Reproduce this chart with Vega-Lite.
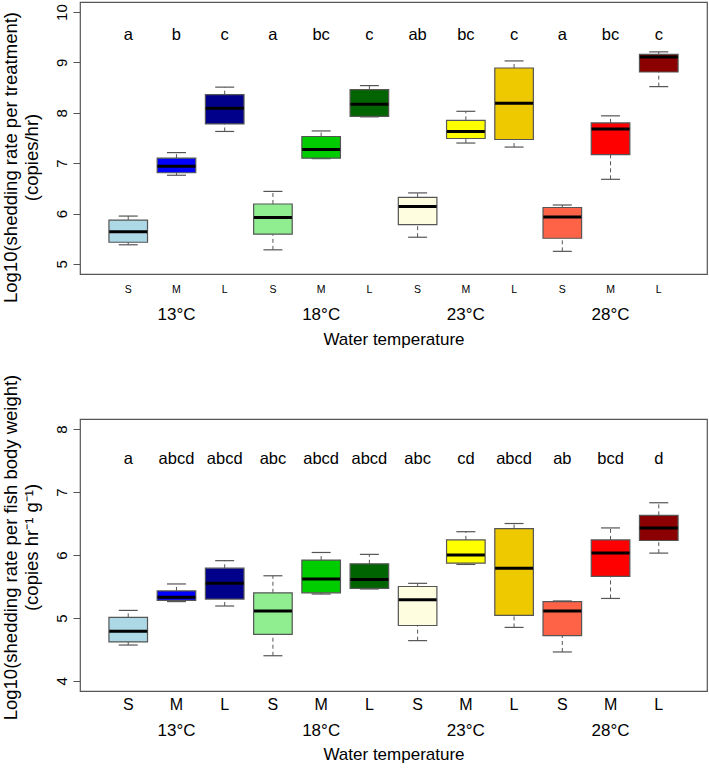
{
  "$schema": "https://vega.github.io/schema/vega-lite/v6.json",
  "padding": {"left": 0, "top": 1, "right": 0, "bottom": 0},
  "spacing": 145,
  "bounds": "flush",
  "config": {
    "font": "Liberation Sans",
    "view": {"stroke": "#555", "strokeWidth": 1.2},
    "tick": {"opacity": 1},
    "axis": {"labelColor": "#000", "titleColor": "#000", "titleFontWeight": "normal", "grid": false, "labelFont": "Liberation Sans", "titleFont": "Liberation Sans"},
    "axisY": {"labelAngle": -90, "labelAlign": "center", "labelBaseline": "alphabetic", "labelFontSize": 15, "tickSize": 7, "tickColor": "#555", "domain": false, "labelPadding": 7,
              "titleFontSize": 18.5, "titleLineHeight": 21, "titleAngle": -90, "titleX": -64, "titleBaseline": "alphabetic", "titleAlign": "center", "format": "d"}
  },
  "datasets": {
    "top": [
      {"grp": "13°C S", "lo": 5.38, "q1": 5.43, "med": 5.64, "q3": 5.87, "hi": 5.95, "letter": "a"},
      {"grp": "13°C M", "lo": 6.76, "q1": 6.81, "med": 6.94, "q3": 7.10, "hi": 7.21, "letter": "b"},
      {"grp": "13°C L", "lo": 7.63, "q1": 7.78, "med": 8.09, "q3": 8.36, "hi": 8.51, "letter": "c"},
      {"grp": "18°C S", "lo": 5.28, "q1": 5.59, "med": 5.92, "q3": 6.19, "hi": 6.44, "letter": "a"},
      {"grp": "18°C M", "lo": 7.09, "q1": 7.10, "med": 7.27, "q3": 7.53, "hi": 7.64, "letter": "bc"},
      {"grp": "18°C L", "lo": 7.92, "q1": 7.93, "med": 8.17, "q3": 8.46, "hi": 8.54, "letter": "c"},
      {"grp": "23°C S", "lo": 5.53, "q1": 5.78, "med": 6.14, "q3": 6.32, "hi": 6.41, "letter": "ab"},
      {"grp": "23°C M", "lo": 7.40, "q1": 7.49, "med": 7.63, "q3": 7.85, "hi": 8.03, "letter": "bc"},
      {"grp": "23°C L", "lo": 7.32, "q1": 7.47, "med": 8.19, "q3": 8.89, "hi": 9.03, "letter": "c"},
      {"grp": "28°C S", "lo": 5.25, "q1": 5.51, "med": 5.93, "q3": 6.12, "hi": 6.17, "letter": "a"},
      {"grp": "28°C M", "lo": 6.68, "q1": 7.17, "med": 7.68, "q3": 7.80, "hi": 7.94, "letter": "bc"},
      {"grp": "28°C L", "lo": 8.52, "q1": 8.81, "med": 9.11, "q3": 9.16, "hi": 9.21, "letter": "c"}
    ],
    "bot": [
      {"grp": "13°C S", "lo": 4.57, "q1": 4.62, "med": 4.79, "q3": 5.01, "hi": 5.12, "letter": "a"},
      {"grp": "13°C M", "lo": 5.26, "q1": 5.28, "med": 5.33, "q3": 5.43, "hi": 5.54, "letter": "abcd"},
      {"grp": "13°C L", "lo": 5.19, "q1": 5.30, "med": 5.55, "q3": 5.79, "hi": 5.91, "letter": "abcd"},
      {"grp": "18°C S", "lo": 4.40, "q1": 4.74, "med": 5.11, "q3": 5.40, "hi": 5.67, "letter": "abc"},
      {"grp": "18°C M", "lo": 5.38, "q1": 5.40, "med": 5.62, "q3": 5.92, "hi": 6.04, "letter": "abcd"},
      {"grp": "18°C L", "lo": 5.46, "q1": 5.47, "med": 5.61, "q3": 5.86, "hi": 6.01, "letter": "abcd"},
      {"grp": "23°C S", "lo": 4.64, "q1": 4.88, "med": 5.29, "q3": 5.50, "hi": 5.55, "letter": "abc"},
      {"grp": "23°C M", "lo": 5.85, "q1": 5.87, "med": 6.00, "q3": 6.24, "hi": 6.37, "letter": "cd"},
      {"grp": "23°C L", "lo": 4.85, "q1": 5.04, "med": 5.79, "q3": 6.42, "hi": 6.50, "letter": "abcd"},
      {"grp": "28°C S", "lo": 4.46, "q1": 4.72, "med": 5.11, "q3": 5.26, "hi": 5.27, "letter": "ab"},
      {"grp": "28°C M", "lo": 5.31, "q1": 5.66, "med": 6.03, "q3": 6.24, "hi": 6.43, "letter": "bcd"},
      {"grp": "28°C L", "lo": 6.03, "q1": 6.23, "med": 6.43, "q3": 6.63, "hi": 6.83, "letter": "d"}
    ]
  },
  "vconcat": [
    {
      "width": 627, "height": 272,
      "data": {"name": "top"},
      "resolve": {"axis": {"x": "independent"}},
      "layer": [
        {"mark": {"type": "rule", "strokeDash": [4, 3], "color": "#555"},
         "encoding": {
           "x": {"field": "grp", "type": "nominal", "sort": null, "scale": {"paddingInner": 0.2, "paddingOuter": 0.6}, "axis": null},
           "y": {"field": "lo", "type": "quantitative", "scale": {"domain": [4.8, 10.2], "nice": false, "zero": false},
                 "axis": {"values": [5, 6, 7, 8, 9, 10], "labelAngle": -90, "format": "d", "titleY": 155, "title": ["Log10(shedding rate per treatment)", "(copies/hr)"]}},
           "y2": {"field": "q1"}}},
        {"mark": {"type": "rule", "strokeDash": [4, 3], "color": "#555"},
         "encoding": {
           "x": {"field": "grp", "type": "nominal", "sort": null, "axis": null},
           "y": {"field": "q3", "type": "quantitative", "axis": {"values": [5, 6, 7, 8, 9, 10], "labelAngle": -90, "format": "d", "titleY": 155, "title": ["Log10(shedding rate per treatment)", "(copies/hr)"]}},
           "y2": {"field": "hi"}}},
        {"mark": {"type": "tick", "size": 19, "thickness": 1.2, "color": "#555"},
         "encoding": {
           "x": {"field": "grp", "type": "nominal", "sort": null, "axis": null},
           "y": {"field": "lo", "type": "quantitative", "axis": {"values": [5, 6, 7, 8, 9, 10], "labelAngle": -90, "format": "d", "titleY": 155, "title": ["Log10(shedding rate per treatment)", "(copies/hr)"]}}}},
        {"mark": {"type": "tick", "size": 19, "thickness": 1.2, "color": "#555"},
         "encoding": {
           "x": {"field": "grp", "type": "nominal", "sort": null, "axis": null},
           "y": {"field": "hi", "type": "quantitative", "axis": {"values": [5, 6, 7, 8, 9, 10], "labelAngle": -90, "format": "d", "titleY": 155, "title": ["Log10(shedding rate per treatment)", "(copies/hr)"]}}}},
        {"mark": {"type": "bar", "stroke": "#555", "strokeWidth": 1.2, "opacity": 1},
         "encoding": {
           "x": {"field": "grp", "type": "nominal", "sort": null,
                 "axis": {"orient": "bottom", "labelAngle": 0, "ticks": false, "tickSize": 0, "domain": false, "labelFontSize": 10.5, "labelPadding": 10, "title": null,
                          "labelExpr": "split(datum.label, ' ')[1]"}},
           "y": {"field": "q1", "type": "quantitative", "axis": {"values": [5, 6, 7, 8, 9, 10], "labelAngle": -90, "format": "d", "titleY": 155, "title": ["Log10(shedding rate per treatment)", "(copies/hr)"]}},
           "y2": {"field": "q3"},
           "color": {"field": "grp", "type": "nominal", "sort": null, "legend": null,
                     "scale": {"domain": ["13°C S", "13°C M", "13°C L", "18°C S", "18°C M", "18°C L", "23°C S", "23°C M", "23°C L", "28°C S", "28°C M", "28°C L"],
                               "range": ["#ADD8E6", "#0000FF", "#00008B", "#90EE90", "#00CD00", "#006400", "#FFFDE0", "#FFFF00", "#EEC900", "#FF6347", "#FF0000", "#8B0000"]}}}},
        {"mark": {"type": "tick", "size": 38, "thickness": 3, "color": "#000"},
         "encoding": {
           "x": {"field": "grp", "type": "nominal", "sort": null, "axis": null},
           "y": {"field": "med", "type": "quantitative", "axis": {"values": [5, 6, 7, 8, 9, 10], "labelAngle": -90, "format": "d", "titleY": 155, "title": ["Log10(shedding rate per treatment)", "(copies/hr)"]}}}},
        {"mark": {"type": "text", "fontSize": 16.5, "baseline": "middle", "color": "#000"},
         "encoding": {
           "x": {"field": "grp", "type": "nominal", "sort": null,
                 "axis": {"orient": "bottom", "labelAngle": 0, "ticks": false, "tickSize": 0, "domain": false, "labelFontSize": 17, "labelPadding": 32,
                          "labelExpr": "split(datum.label, ' ')[1] == 'M' ? split(datum.label, ' ')[0] : ''",
                          "title": "Water temperature", "titleFontSize": 17, "titlePadding": 9}},
           "y": {"datum": 9.55, "type": "quantitative", "axis": {"values": [5, 6, 7, 8, 9, 10], "labelAngle": -90, "format": "d", "titleY": 155, "title": ["Log10(shedding rate per treatment)", "(copies/hr)"]}},
           "text": {"field": "letter"}}}
      ]
    },
    {
      "width": 627, "height": 272,
      "data": {"name": "bot"},
      "resolve": {"axis": {"x": "independent"}},
      "layer": [
        {"mark": {"type": "rule", "strokeDash": [4, 3], "color": "#555"},
         "encoding": {
           "x": {"field": "grp", "type": "nominal", "sort": null, "scale": {"paddingInner": 0.2, "paddingOuter": 0.6}, "axis": null},
           "y": {"field": "lo", "type": "quantitative", "scale": {"domain": [3.84, 8.16], "nice": false, "zero": false},
                 "axis": {"values": [4, 5, 6, 7, 8], "labelAngle": -90, "format": "d", "titleY": 128, "title": ["Log10(shedding rate per fish body weight)", "(copies hr⁻¹ g⁻¹)"]}},
           "y2": {"field": "q1"}}},
        {"mark": {"type": "rule", "strokeDash": [4, 3], "color": "#555"},
         "encoding": {
           "x": {"field": "grp", "type": "nominal", "sort": null, "axis": null},
           "y": {"field": "q3", "type": "quantitative", "axis": {"values": [4, 5, 6, 7, 8], "labelAngle": -90, "format": "d", "titleY": 128, "title": ["Log10(shedding rate per fish body weight)", "(copies hr⁻¹ g⁻¹)"]}},
           "y2": {"field": "hi"}}},
        {"mark": {"type": "tick", "size": 19, "thickness": 1.2, "color": "#555"},
         "encoding": {
           "x": {"field": "grp", "type": "nominal", "sort": null, "axis": null},
           "y": {"field": "lo", "type": "quantitative", "axis": {"values": [4, 5, 6, 7, 8], "labelAngle": -90, "format": "d", "titleY": 128, "title": ["Log10(shedding rate per fish body weight)", "(copies hr⁻¹ g⁻¹)"]}}}},
        {"mark": {"type": "tick", "size": 19, "thickness": 1.2, "color": "#555"},
         "encoding": {
           "x": {"field": "grp", "type": "nominal", "sort": null, "axis": null},
           "y": {"field": "hi", "type": "quantitative", "axis": {"values": [4, 5, 6, 7, 8], "labelAngle": -90, "format": "d", "titleY": 128, "title": ["Log10(shedding rate per fish body weight)", "(copies hr⁻¹ g⁻¹)"]}}}},
        {"mark": {"type": "bar", "stroke": "#555", "strokeWidth": 1.2, "opacity": 1},
         "encoding": {
           "x": {"field": "grp", "type": "nominal", "sort": null,
                 "axis": {"orient": "bottom", "labelAngle": 0, "ticks": false, "tickSize": 0, "domain": false, "labelFontSize": 16, "labelPadding": 5, "title": null,
                          "labelExpr": "split(datum.label, ' ')[1]"}},
           "y": {"field": "q1", "type": "quantitative", "axis": {"values": [4, 5, 6, 7, 8], "labelAngle": -90, "format": "d", "titleY": 128, "title": ["Log10(shedding rate per fish body weight)", "(copies hr⁻¹ g⁻¹)"]}},
           "y2": {"field": "q3"},
           "color": {"field": "grp", "type": "nominal", "sort": null, "legend": null,
                     "scale": {"domain": ["13°C S", "13°C M", "13°C L", "18°C S", "18°C M", "18°C L", "23°C S", "23°C M", "23°C L", "28°C S", "28°C M", "28°C L"],
                               "range": ["#ADD8E6", "#0000FF", "#00008B", "#90EE90", "#00CD00", "#006400", "#FFFDE0", "#FFFF00", "#EEC900", "#FF6347", "#FF0000", "#8B0000"]}}}},
        {"mark": {"type": "tick", "size": 38, "thickness": 3, "color": "#000"},
         "encoding": {
           "x": {"field": "grp", "type": "nominal", "sort": null, "axis": null},
           "y": {"field": "med", "type": "quantitative", "axis": {"values": [4, 5, 6, 7, 8], "labelAngle": -90, "format": "d", "titleY": 128, "title": ["Log10(shedding rate per fish body weight)", "(copies hr⁻¹ g⁻¹)"]}}}},
        {"mark": {"type": "text", "fontSize": 16.5, "baseline": "middle", "color": "#000"},
         "encoding": {
           "x": {"field": "grp", "type": "nominal", "sort": null,
                 "axis": {"orient": "bottom", "labelAngle": 0, "ticks": false, "tickSize": 0, "domain": false, "labelFontSize": 17, "labelPadding": 31,
                          "labelExpr": "split(datum.label, ' ')[1] == 'M' ? split(datum.label, ' ')[0] : ''",
                          "title": "Water temperature", "titleFontSize": 17, "titlePadding": 8}},
           "y": {"datum": 7.52, "type": "quantitative", "axis": {"values": [4, 5, 6, 7, 8], "labelAngle": -90, "format": "d", "titleY": 128, "title": ["Log10(shedding rate per fish body weight)", "(copies hr⁻¹ g⁻¹)"]}},
           "text": {"field": "letter"}}}
      ]
    }
  ]
}
